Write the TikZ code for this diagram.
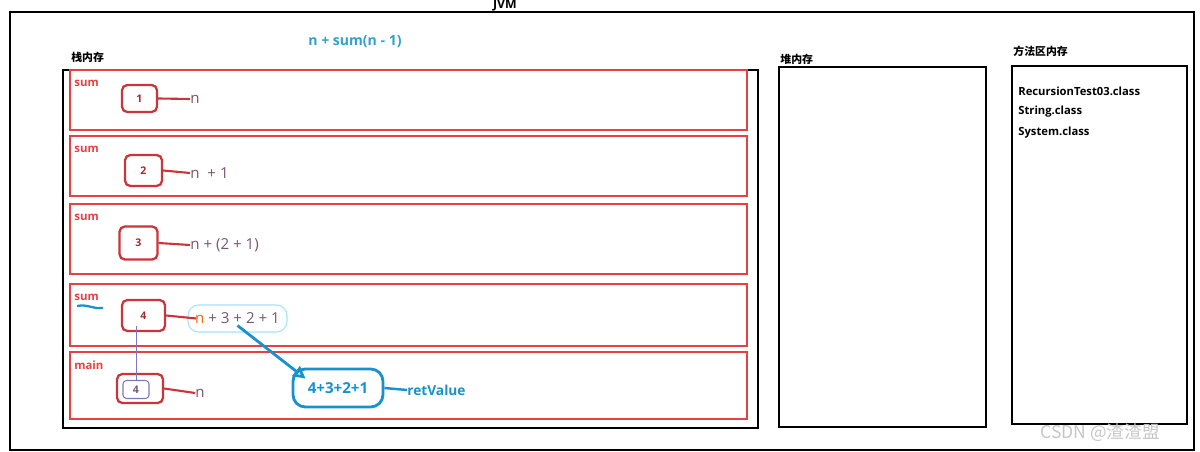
\documentclass[tikz,border=0pt]{standalone}
\usepackage{fontspec}
\setmainfont{Open Sans}
\newfontfamily\cjk{Noto Sans CJK SC}
\usetikzlibrary{arrows.meta}
\definecolor{framered}{RGB}{232,64,64}
\definecolor{boxred}{RGB}{205,52,58}
\definecolor{exprcol}{RGB}{120,85,115}
\definecolor{callblue}{RGB}{25,145,205}
\definecolor{titlecyan}{RGB}{50,160,205}
\definecolor{copycol}{RGB}{120,120,200}
\tikzset{
  frame/.style={draw=framered, line width=1.6pt},
  framelabel/.style={anchor=west, inner sep=0pt, text=framered, font=\fontsize{6.5}{7}\selectfont\bfseries},
  valbox/.style={draw=boxred, line width=1.3pt, rounded corners=3pt, text=boxred!80!black, font=\fontsize{6}{7}\selectfont\bfseries, inner sep=0pt},
  expr/.style={anchor=west, inner sep=0pt, text=exprcol, font=\fontsize{8.6}{10}\selectfont},
  link/.style={draw=boxred, line width=1.2pt},
  memtitle/.style={anchor=west, inner sep=0pt, font=\cjk\fontsize{6.2}{7}\selectfont\bfseries},
  memline/.style={draw=black, line width=1.5pt},
  classname/.style={anchor=west, inner sep=0pt, font=\fontsize{6.4}{7}\selectfont\bfseries},
}
\begin{document}
\begin{tikzpicture}[x=0.02cm, y=-0.02cm]
        \useasboundingbox (0,0) rectangle (1200,452);
        % JVM and the three memory areas
        \node[font=\fontsize{7}{8}\selectfont\bfseries, inner sep=0pt] (jvm) at (505,5) {JVM};
        \draw[memline] (10,12) rectangle (1194,450);
        \draw[memline] (63,70) rectangle (758,428);
        \draw[memline] (779,67) rectangle (986,427);
        \draw[memline] (1012,66) rectangle (1187,424);
        \node[memtitle] (stack) at (71,57) {栈内存};
        \node[memtitle] (heap) at (780,59) {堆内存};
        \node[memtitle] (method) at (1013,51) {方法区内存};
        % loaded classes
        \foreach \y/\cls in {91/RecursionTest03.class, 112/String.class, 133/System.class}
            \node[classname] at (1018,\y) {\cls};
        % recursion formula
        \node[text=titlecyan, font=\fontsize{8}{9}\selectfont\bfseries] (formula) at (355,42) {n + sum(n - 1)};
        % stack frames
        \foreach \top/\bot/\fname in {70/130/sum, 136/196/sum, 204/274/sum, 284/346/sum, 352/419/main} {
            \draw[frame] (70,\top) rectangle (747,\bot);
            \node[framelabel] at (74,\top+13) {\fname};
        }
        % values of n in each frame
        \node[valbox, minimum width=0.70cm, minimum height=0.54cm] (v1) at (139.5,98.5) {1};
        \node[expr] (e1) at (190,99) {n};
        \draw[link] (v1.east) -- (e1.west);
        \node[valbox, minimum width=0.74cm, minimum height=0.62cm] (v2) at (143.5,170.5) {2};
        \node[expr] (e2) at (190,173) {n \ + 1};
        \draw[link] (v2.east) -- (e2.west);
        \node[valbox, minimum width=0.76cm, minimum height=0.66cm] (v3) at (138.5,243) {3};
        \node[expr] (e3) at (190,245) {n + (2 + 1)};
        \draw[link] (v3.east) -- (e3.west);
        \node[valbox, minimum width=0.86cm, minimum height=0.62cm] (v4) at (143.5,315.5) {4};
        \node[expr, anchor=center, draw=cyan!35, line width=0.6pt, rounded corners=6pt, minimum width=1.98cm, minimum height=0.54cm] (e4) at (237.5,318.5) {\textcolor{orange!80!red}{n} + 3 + 2 + 1};
        \draw[link] (v4.east) -- ([xshift=5pt]e4.west);
        % main frame
        \node[valbox, minimum width=0.92cm, minimum height=0.58cm] (vm) at (140,388.5) {};
        \node[valbox, draw=copycol!70!gray, line width=0.6pt, rounded corners=2pt, text=exprcol, minimum width=0.52cm, minimum height=0.36cm] (vin) at (136,389.5) {4};
        \node[expr] (em) at (195,393) {n};
        \draw[link] (vm.east) -- (em.west);
        \draw[draw=copycol, line width=0.5pt] ([yshift=-6pt]v4.center -| vin.north) -- (vin.north);
        % returned value
        \node[draw=callblue, line width=1.6pt, rounded corners=7pt, text=callblue, font=\fontsize{8.6}{10}\selectfont\bfseries, minimum width=1.80cm, minimum height=0.76cm] (rv) at (338,388) {4+3+2+1};
        \node[anchor=west, inner sep=0pt, text=callblue, font=\fontsize{7.8}{9}\selectfont\bfseries] (ret) at (407,390) {retValue};
        \draw[callblue, line width=1.4pt] (rv.east) -- (ret.west);
        \draw[callblue, line width=1.6pt, -{Triangle[open, length=7pt, width=7pt]}] ([yshift=-4pt]e4.center) -- ([shift={(0.28cm,-0.22cm)}]rv.north west);
        \draw[callblue, line width=1.3pt] (77,306) .. controls (88,304) and (92,309) .. (103,308);
        % watermark
        \node[anchor=west, inner sep=0pt, text=gray!45, font=\cjk\fontsize{10}{12}\selectfont] (mark) at (1040,433) {CSDN @渣渣盟};
    \end{tikzpicture}
\end{document}
